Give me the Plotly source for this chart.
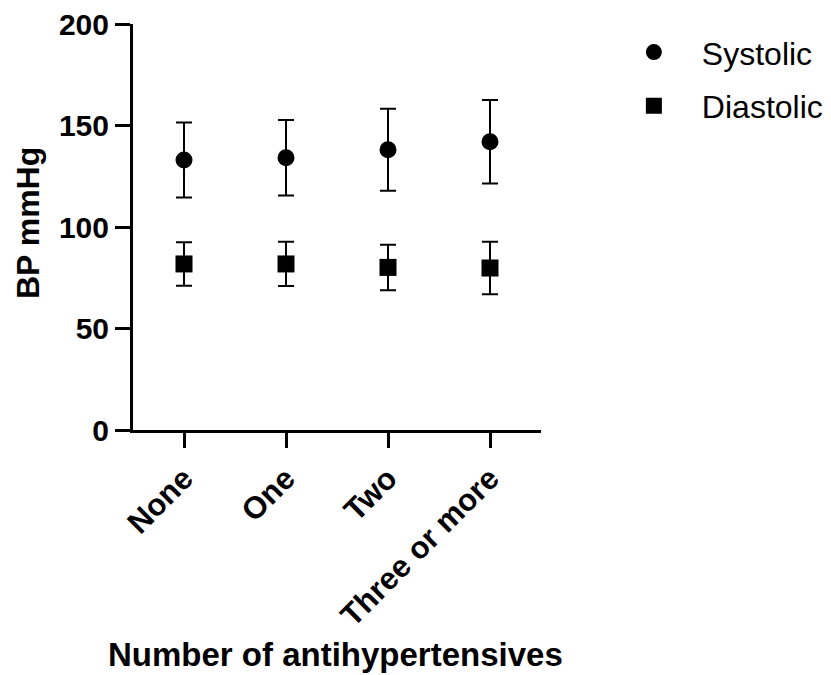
import plotly.graph_objects as go

categories = ["None", "One", "Two", "Three or more"]
systolic_mean = [133.0, 134.1, 138.1, 142.0]
systolic_sd = [18.5, 18.6, 20.2, 20.6]
diastolic_mean = [81.8, 81.8, 80.1, 79.8]
diastolic_sd = [10.7, 10.9, 11.2, 12.9]
y_ticks = [0, 50, 100, 150, 200]
x_title = "Number of antihypertensives"
y_title = "BP mmHg"

FONT = "Liberation Sans, Arial, sans-serif"

fig = go.Figure()
fig.add_trace(go.Scatter(
    x=list(range(len(categories))), y=systolic_mean, name="Systolic",
    mode="markers", legendgroup="s",
    marker=dict(symbol="circle", size=17, color="black"),
    error_y=dict(type="data", array=systolic_sd, visible=True,
                 color="black", thickness=2, width=8),
))
fig.add_trace(go.Scatter(
    x=list(range(len(categories))), y=diastolic_mean, name="Diastolic",
    mode="markers", legendgroup="d",
    marker=dict(symbol="square", size=17, color="black"),
    error_y=dict(type="data", array=diastolic_sd, visible=True,
                 color="black", thickness=2, width=8),
))

fig.update_layout(
    template="none",
    width=823, height=667,
    margin=dict(l=125, r=290, t=16, b=245, autoexpand=False),
    paper_bgcolor="white", plot_bgcolor="white",
    showlegend=True,
    legend=dict(x=1.159, y=0.998, xanchor="left", yanchor="top",
                font=dict(family=FONT, size=32, color="black"),
                tracegroupgap=9, itemwidth=86, bgcolor="rgba(0,0,0,0)"),
    xaxis=dict(
        range=[-0.5, 3.5], tickmode="array", automargin=False,
        tickvals=list(range(len(categories))), ticktext=categories,
        tickangle=-45, showline=True, linecolor="black", linewidth=3,
        ticks="outside", ticklen=15, tickwidth=3, tickcolor="black",
        showgrid=False, zeroline=False, ticklabeloverflow="allow",
        tickfont=dict(family=FONT, size=31, color="black", weight="bold"),
    ),
    yaxis=dict(
        range=[0, 200], tickmode="array", tickvals=y_ticks, automargin=False,
        showline=True, linecolor="black", linewidth=3,
        ticks="outside", ticklen=15, tickwidth=3, tickcolor="black",
        showgrid=False, zeroline=False, ticklabeloverflow="allow",
        tickfont=dict(family=FONT, size=30, color="black", weight="bold"),
    ),
    annotations=[
        dict(text=x_title, xref="paper", yref="paper", x=0.4975, y=-0.553,
             xanchor="center", yanchor="middle", showarrow=False,
             font=dict(family=FONT, size=33, color="black", weight="bold")),
        dict(text=y_title, xref="paper", yref="paper", x=-0.257, y=0.51,
             xanchor="center", yanchor="middle", showarrow=False, textangle=-90,
             font=dict(family=FONT, size=32, color="black", weight="bold")),
    ],
)

fig.write_html("out.html")
